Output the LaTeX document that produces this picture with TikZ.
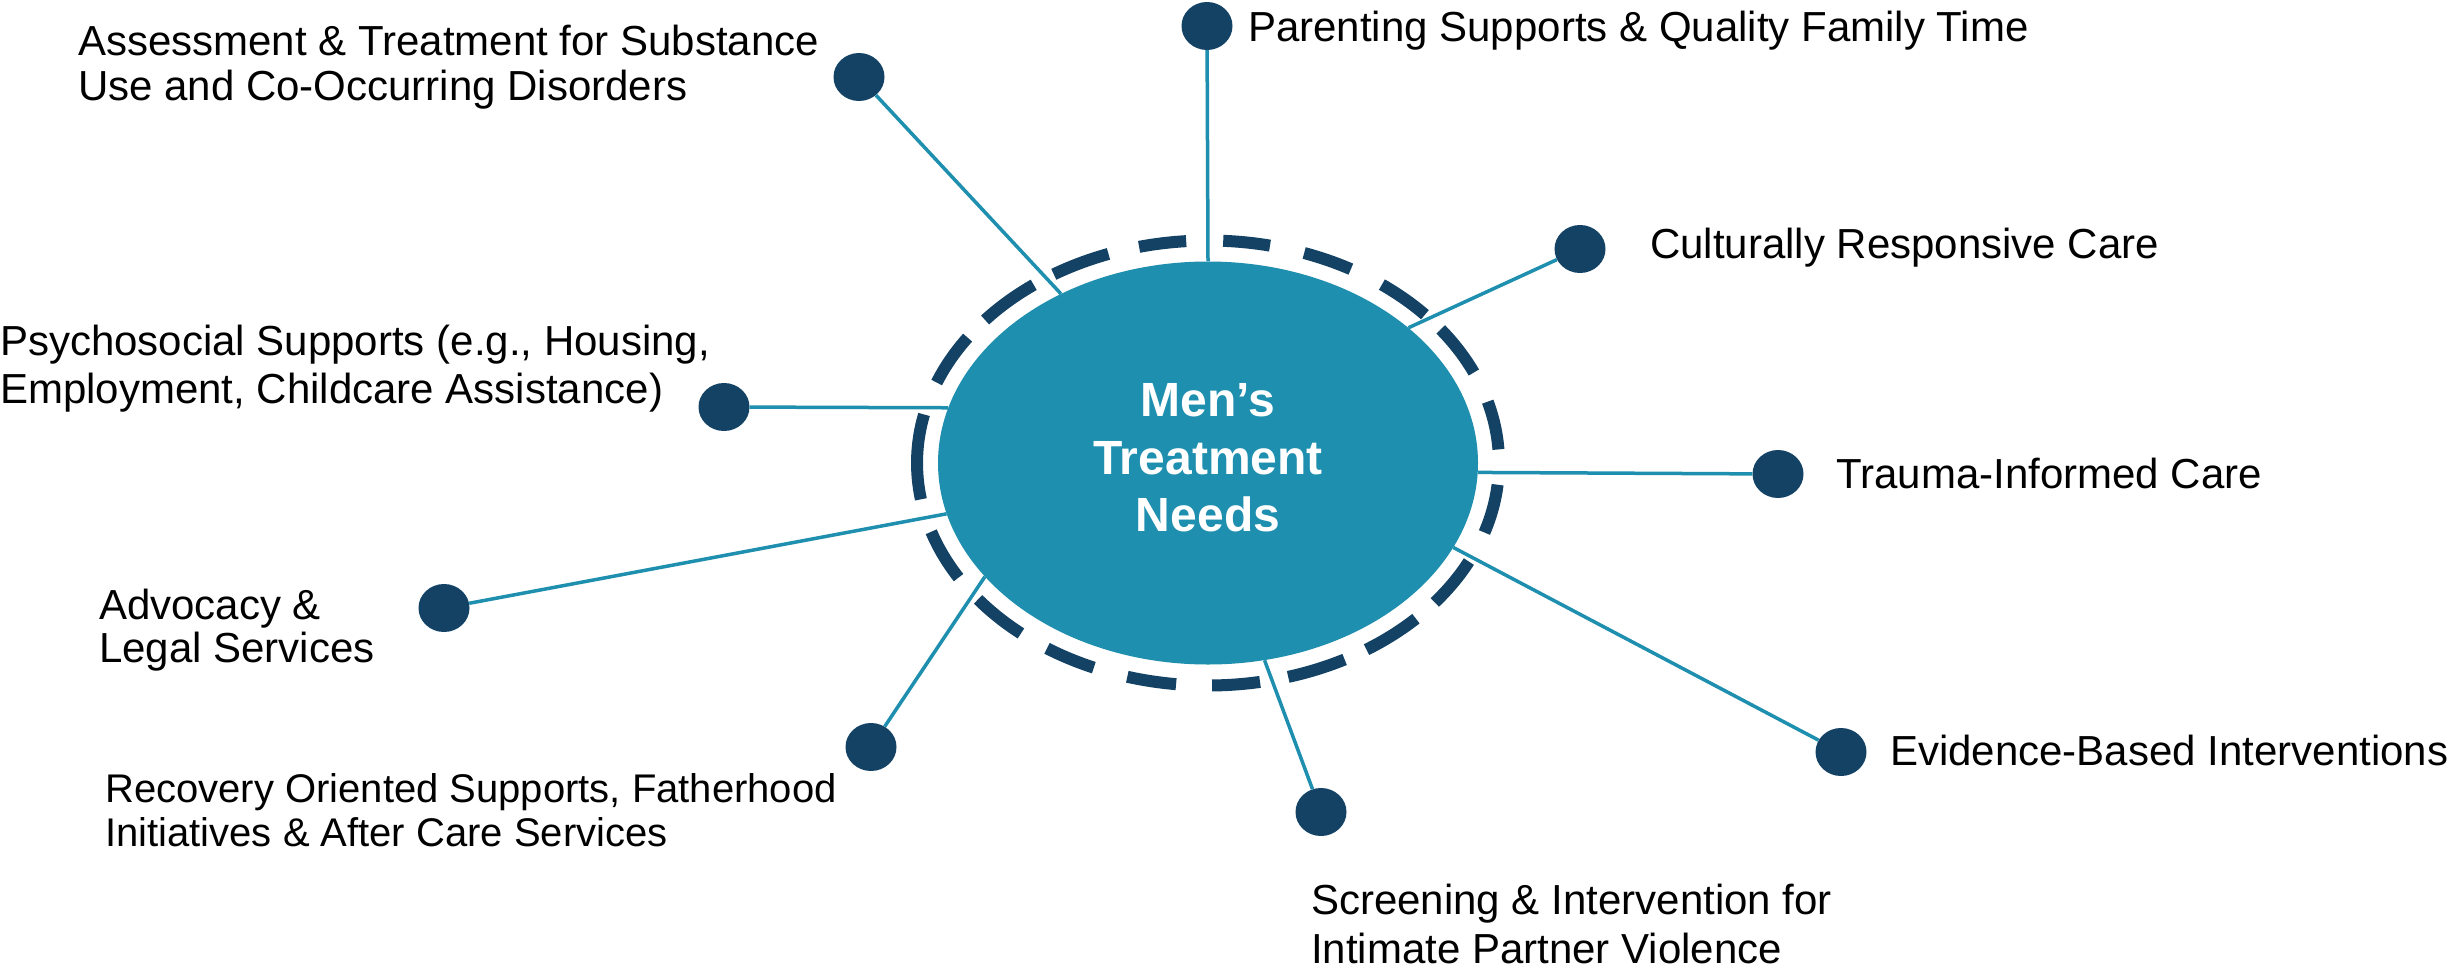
\documentclass[tikz,border=0pt]{standalone}
\usepackage{fontspec}
\setmainfont{Liberation Sans}
\usetikzlibrary{shapes.geometric}
\definecolor{navy}{RGB}{19,66,101}
\definecolor{tealc}{RGB}{31,143,175}
\tikzset{
  hub/.style={ellipse, fill=tealc, minimum width=540pt, minimum height=403pt, inner sep=0pt},
  hubtext/.style={text=white, font=\bfseries\fontsize{48}{57.5}\selectfont, align=center, inner sep=0pt},
  dot/.style={ellipse, fill=navy, minimum width=51pt, minimum height=48pt, inner sep=0pt},
  spoke/.style={draw=tealc, line width=3.5pt},
  ring/.style={draw=navy, line width=12pt},
  lab/.style={font=\fontsize{42}{44}\selectfont, inner sep=0pt, align=left, anchor=base west, text=black},
}
\begin{document}
\begin{tikzpicture}[x=1pt,y=1pt]
\useasboundingbox (0,0) rectangle (2458,-969);
\fill[white] (0,0) rectangle (2458,-969);

% hub
\node[hub] (C) at (1208,-463) {};
\node[hubtext] (T) at (1208,-458) {Men’s\\Treatment\\Needs};

% dots
\node[dot] (dpar)  at (1207,-26)  {};
\node[dot] (dcul)  at (1580,-249) {};
\node[dot] (dass)  at (859,-77)   {};
\node[dot] (dpsy)  at (724,-407)  {};
\node[dot] (dadv)  at (444,-608)  {};
\node[dot] (drec)  at (871,-747)  {};
\node[dot] (dscr)  at (1321,-812) {};
\node[dot] (devi)  at (1841,-752) {};
\node[dot] (dtra)  at (1778,-474) {};

% spokes
\draw[spoke] (dpar) -- (C.90);
\draw[spoke] (dcul) -- (C.34.9);
\draw[spoke] (dass) -- (C.131.65);
\draw[spoke] (dpsy) -- (C.168.25);
\draw[spoke] (dadv) -- (C.191.9);
\draw[spoke] (drec) -- (C.207);
\draw[spoke] (dscr) -- (C.286.1);
\draw[spoke] (devi) -- (C.341.7);
\draw[spoke] (dtra) -- (C.358);

% dashed ring
\foreach \s/\e in {94.3/103.7, 77.7/87.0, 60.6/70.7, 41.8/53.3, 24/36.9, 3.5/16,
  -18.2/-5.6, -38.8/-26.3, -57/-44.4, -74/-62, -89.2/-79.7, -106.1/-96.3,
  -123.6/-113.1, -142.2/-130, -162/-149, 167.4/189.4, 145.7/158.8, 126.8/140, 110/122}
  \draw[ring] (C.center) ++(\s:291 and 222.5) arc[start angle=\s, end angle=\e, x radius=291, y radius=222.5];

% labels (base anchor = baseline of last line)
\node[lab] (lass) at (78,-100) {Assessment \& Treatment for Substance\\[1pt]Use and Co-Occurring Disorders};
\node[lab] (lpar) at (1248,-41) {Parenting Supports \& Quality Family Time};
\node[lab] (lcul) at (1650,-258) {Culturally Responsive Care};
\node[lab] (lpsy) at (0,-403) {Psychosocial Supports (e.g., Housing,\\[4pt]Employment, Childcare Assistance)};
\node[lab] (ltra) at (1836,-488) {Trauma-Informed Care};
\node[lab] (ladv) at (99,-662) {Advocacy \&\\[-1pt]Legal Services};
\node[lab] (levi) at (1890,-765) {Evidence-Based Interventions};
\node[lab, font=\fontsize{40}{44}\selectfont] (lrec) at (105,-846) {Recovery Oriented Supports, Fatherhood\\Initiatives \& After Care Services};
\node[lab] (lscr) at (1311,-963) {Screening \& Intervention for\\[5pt]Intimate Partner Violence};
\end{tikzpicture}
\end{document}
